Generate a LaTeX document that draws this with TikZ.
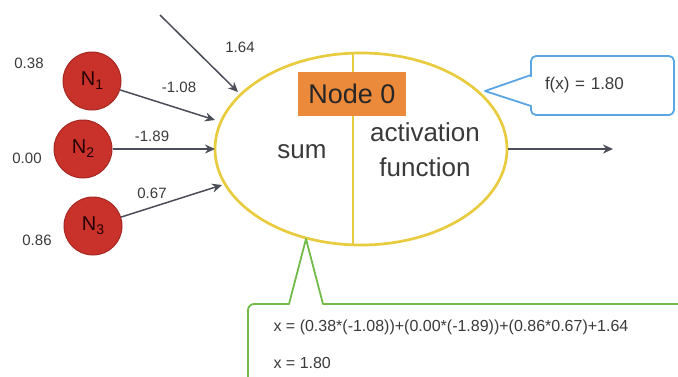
\documentclass[tikz,border=0pt]{standalone}
\usepackage{fontspec}
\setmainfont{Liberation Sans}
\usetikzlibrary{shapes.geometric,arrows.meta,positioning}

\definecolor{neuronred}{HTML}{C8322B}
\definecolor{neuronedge}{HTML}{A52722}
\definecolor{cellyellow}{HTML}{E9CB3F}
\definecolor{tagorange}{HTML}{EC8A3C}
\definecolor{callblue}{HTML}{5AA5E2}
\definecolor{callgreen}{HTML}{72BB48}
\definecolor{wiregray}{HTML}{4B4D58}
\definecolor{textgray}{HTML}{3A3A3A}

\newcommand{\fsz}[1]{\fontsize{#1}{#1}\selectfont}
\newcommand{\nsub}[1]{\raisebox{-4pt}{\fsz{14}#1}}

\begin{document}
\begin{tikzpicture}[x=1pt, y=-1pt,
	every node/.style={text=textgray},
	neuron/.style={circle, draw=neuronedge, fill=neuronred, line width=1pt, minimum size=58pt, inner sep=0pt, font=\fsz{20}, text=black!85!red},
	value/.style={font=\fsz{15}},
	weight/.style={font=\fsz{15}},
	wire/.style={draw=wiregray, line width=1.5pt, -{Stealth[length=10pt, width=9pt]}},
	callout/.style={line width=1.8pt, line join=round}
]
	\useasboundingbox (0,0) rectangle (678,376);

	% Neurons
	\node[neuron] (n1) at (92,81) {N\nsub{1}};
	\node[neuron] (n2) at (83,149) {N\nsub{2}};
	\node[neuron] (n3) at (93,226) {N\nsub{3}};

	% Input values
	\node[value] (v1) at (29,63) {0.38};
	\node[value] (v2) at (27,158) {0.00};
	\node[value] (v3) at (37,240) {0.86};

	% Cell
	\node[ellipse, draw=cellyellow, line width=2.7pt, minimum width=292pt, minimum height=192pt, inner sep=0pt] (cell) at (361,149) {};
	\draw[cellyellow, line width=1.5pt] (353,54) -- (353,244);
	\node[fill=tagorange, minimum width=108pt, minimum height=44pt, inner sep=0pt, font=\fsz{27}, text=black!85] (tag) at (352,94) {Node 0};
	\node[font=\fsz{26}] (sum) at (302,152) {sum};
	\node[font=\fontsize{26}{35}\selectfont, align=center] (act) at (425,150) {activation\\function};

	% Edges with labels
	\coordinate (bias) at (160,15);
	\coordinate (in0) at (238,92);
	\coordinate (in1) at (215,120);
	\coordinate (in2) at (215,149);
	\coordinate (in3) at (222,185);
	\coordinate (out) at (613,149);

	\draw[wire] (bias) -- (in0);
	\draw[wire] (n1) -- (in1);
	\draw[wire] (n2) -- (in2);
	\draw[wire] (n3) -- (in3);
	\draw[wire] (cell.east) -- (out);

	\node[weight] (w0) at (240,47) {1.64};
	\node[weight] (w1) at (179,87) {-1.08};
	\node[weight] (w2) at (152,136) {-1.89};
	\node[weight] (w3) at (152,193) {0.67};

	% Callouts
	\node[draw=callblue, line width=1.8pt, rounded corners=5pt, minimum width=143pt, minimum height=59pt, inner xsep=14pt, text width=115pt, align=left, font=\fsz{17}] (fx) at (602.5,85.5) {f(x) = 1.80};
	\fill[white] (529.5,76.5) rectangle (532.5,104.5);
	\draw[callout, callblue] (531,75) -- (485,91) -- (531,106);

	\draw[callout, callgreen] (680,304) -- (323,304) -- (306,239) -- (289,304) [rounded corners=6pt] -- (248,304) -- (248,380);
	\node[font=\fsz{16}, anchor=west] (eq) at (270,327) {x = (0.38*(-1.08))+(0.00*(-1.89))+(0.86*0.67)+1.64};
	\node[font=\fsz{16}, anchor=west] (res) at (270,363) {x = 1.80};

\end{tikzpicture}
\end{document}
